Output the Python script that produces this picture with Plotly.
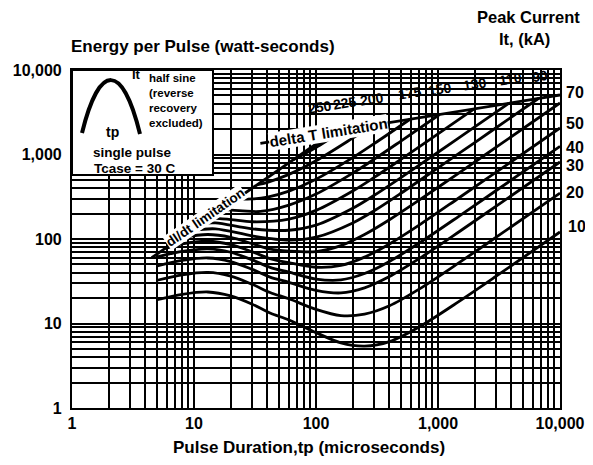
import plotly.graph_objects as go

# ---------------- data ----------------
decade_vals = [1, 10, 100, 1000, 10000]
decade_labels = ["1", "10", "100", "1,000", "10,000"]

currents = [10, 20, 30, 40, 50, 70, 90, 110, 130, 150, 175, 200, 225, 250]

tp_low = [5, 8, 13, 20, 30, 42, 60, 100, 160, 250, 400, 700, 1500, 3000, 10000]
e_10 = [19.1, 22.1, 23.6, 21.2, 16.9, 13.3, 11.0, 7.8, 5.9, 5.4, 6.1, 9.1, 18.4, 36.3, 121]
e_20 = [32.5, 37.7, 40.3, 36.4, 29.1, 23.3, 19.6, 14.7, 12.4, 12.9, 16.2, 25.5, 52.8, 105, 350]
e_30 = [47.9, 55.7, 59.6, 54.1, 43.7, 35.4, 30.7, 24.7, 23.0, 26.4, 35.9, 58.5, 122.7, 245, 815]
e_40 = [61.4, 71.4, 76.5, 69.7, 56.6, 46.2, 40.5, 33.6, 32.8, 39.0, 54.2, 89.4, 188, 375, 1250]

tp_50 = [5.8, 8, 13, 20, 30, 42, 60, 100, 160, 250, 400, 700, 1500, 3000, 10000]
e_50 = [77, 87.4, 94, 86, 70.6, 58.7, 52.4, 46.3, 48.6, 61, 87.4, 146, 310, 618, 2060]

tp_70 = [7.8, 13, 20, 30, 42, 60, 100, 160, 250, 400, 700, 1500, 3000, 10000]
e_70 = [104, 113, 104.7, 88, 76, 72, 71, 83.5, 113, 169, 288, 611, 1221, 4070]

tp_90 = [9.5, 15, 30, 60, 100, 200, 300, 500, 1000, 2000, 4000, 6650]
e_90 = [126, 132, 109, 97, 105, 155, 216, 350, 695, 1385, 2770, 4597]

tp_110 = [11.5, 15, 30, 60, 100, 200, 300, 500, 1000, 2000, 3800]
e_110 = [153, 155, 132, 127, 146, 231, 329, 537, 1063, 2125, 4038]

tp_130 = [13.5, 20, 30, 60, 100, 200, 300, 500, 1000, 1980]
e_130 = [178, 170, 160, 172, 218, 370, 536, 881, 1750, 3468]

tp_150 = [17, 25, 35, 60, 100, 200, 300, 500, 1030]
e_150 = [224, 215, 212, 252, 340, 602, 880, 1452, 2975]

tp_175 = [22.5, 30, 40, 60, 100, 200, 300, 590]
e_175 = [299, 298, 313, 369, 509, 917, 1347, 2615]

tp_200 = [33, 40, 60, 100, 200, 290]
e_200 = [439, 469, 582, 843, 1565, 2215]

tp_225 = [65, 100, 140, 175]
e_225 = [864, 1212, 1638, 1968]

tp_250 = [90, 110, 135]
e_250 = [1150, 1380, 1850]

didt_tp = [4.5, 140]
didt_e = [60, 1862]

delta_tp = [35, 10000]
delta_e = [1352, 5060]

series = [
    (tp_low, e_10), (tp_low, e_20), (tp_low, e_30), (tp_low, e_40),
    (tp_50, e_50), (tp_70, e_70), (tp_90, e_90), (tp_110, e_110),
    (tp_130, e_130), (tp_150, e_150), (tp_175, e_175), (tp_200, e_200),
    (tp_225, e_225), (tp_250, e_250),
]

# ---------------- figure ----------------
# the page body has an 8 px margin, so the figure starts at (8, 8) in the window;
# keep the figure inside the window so that no scrollbar appears
OFF = 8
W, H = 593 - 2 * OFF, 465 - 2 * OFF
L, T = 72 - OFF, 70 - OFF
R, B = 33 - OFF, 57 - OFF
PW, PH = W - L - R, H - T - B


def px(xp, yp):
    """pixel position in the window -> paper coordinates"""
    xf, yf = xp - OFF, yp - OFF
    return (xf - L) / PW, (H - B - yf) / PH


FONT = "Liberation Sans"
fig = go.Figure()

for tp, e in series:
    fig.add_trace(go.Scatter(x=tp, y=e, mode="lines",
                             line=dict(color="black", width=2.8, shape="spline", smoothing=0.9),
                             hoverinfo="skip", showlegend=False))

for tp, e in [(didt_tp, didt_e), (delta_tp, delta_e)]:
    fig.add_trace(go.Scatter(x=tp, y=e, mode="lines",
                             line=dict(color="black", width=2.8),
                             hoverinfo="skip", showlegend=False))

grid_vals = [m * d for d in decade_vals[:-1] for m in range(1, 10)] + [decade_vals[-1]]
grid_text = [decade_labels[decade_vals.index(v)] if v in decade_vals else "" for v in grid_vals]

axis_common = dict(
    type="log", range=[0, 4], tickvals=grid_vals, ticktext=grid_text,
    showgrid=True, gridcolor="black", gridwidth=1.8,
    showline=True, linecolor="black", linewidth=2.2, mirror=True,
    zeroline=False, ticks="", automargin=False, ticklabeloverflow="allow",
    tickfont=dict(family=FONT, size=16, color="black", weight="bold"),
)
fig.update_xaxes(**axis_common)
fig.update_yaxes(**axis_common, ticklabelstandoff=5)

annotations = []


def add_text(text, xp, yp, size, anchor="center", angle=0, bg=None):
    x, y = px(xp, yp)
    annotations.append(dict(
        text=text, x=x, y=y, xref="paper", yref="paper", showarrow=False,
        xanchor=anchor, yanchor="middle", textangle=angle,
        bgcolor=bg if bg else "rgba(0,0,0,0)", borderpad=0,
        font=dict(family=FONT, size=size, color="black", weight="bold"), align="left"))


add_text("Energy per Pulse (watt-seconds)", 203, 46, 17)
add_text("Peak Current", 528, 17, 16.5)
add_text("It, (kA)", 524, 39, 16.5)
add_text("Pulse Duration,tp (microseconds)", 309, 447, 17)

# right-hand current labels (10..70 kA)
right_pos = {70: 92, 50: 123, 40: 147, 30: 165, 20: 192, 10: 226}
for c in [70, 50, 40, 30, 20, 10]:
    add_text(str(c), 565 if c != 10 else 567, right_pos[c], 16, anchor="left")

# top current labels (90..250 kA)
top_pos = {250: (320, 107), 225: (345, 103), 200: (372, 99), 175: (410, 93),
           150: (440, 89), 130: (475, 84), 110: (510, 79), 90: (540, 76)}
for c in [250, 225, 200, 175, 150, 130, 110, 90]:
    add_text(str(c), top_pos[c][0], top_pos[c][1], 14, angle=-9)

# limitation labels on the lines
add_text("dI/dt limitation", 205, 217, 13.5, angle=-34.7, bg="white")
add_text("delta T limitation", 328, 133, 15, angle=-9.2, bg="white")

# inset texts
add_text("It", 136, 75, 13)
add_text("tp", 112, 132, 14)
add_text("half sine<br>(reverse<br>recovery<br>excluded)", 148, 100, 11.5, anchor="left")
add_text("single pulse", 132, 152, 13.5)
add_text("Tcase = 30 C", 134, 168, 13.5)

bx0, by0 = px(72, 175)
bx1, by1 = px(213, 70)
sx0, sy0 = px(82, 133)
sx1, sy1 = px(140, 134)
pxk, pyk = px(110, 80)
ctrl = sy0 + (pyk - sy0) / 0.75
w = sx1 - sx0
path = (f"M {sx0},{sy0} C {sx0 + 0.3 * w},{ctrl} {sx0 + 0.7 * w},{ctrl} {sx1},{sy1}")

fig.update_layout(
    width=W, height=H, autosize=False,
    margin=dict(l=L, r=R, t=T, b=B),
    paper_bgcolor="white", plot_bgcolor="white",
    showlegend=False,
    annotations=annotations,
    shapes=[
        dict(type="rect", xref="paper", yref="paper", x0=bx0, x1=bx1, y0=by0, y1=by1,
             fillcolor="white", line=dict(color="black", width=2), layer="above"),
        dict(type="path", xref="paper", yref="paper", path=path,
             line=dict(color="black", width=4), layer="above"),
    ],
)

fig.write_html("out.html")
